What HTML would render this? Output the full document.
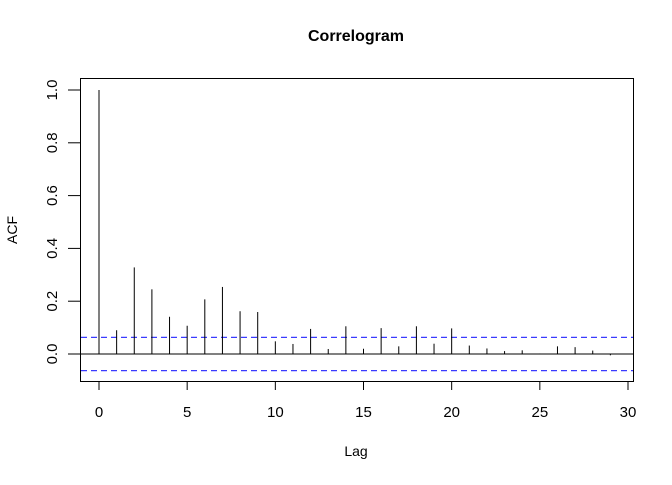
<!DOCTYPE html>
<html><head><meta charset="utf-8"><style>
body{margin:0;background:#fff;}
text{font-family:"Liberation Sans",sans-serif;fill:#000;}
</style></head><body>
<svg id="chart" width="672" height="480" xmlns="http://www.w3.org/2000/svg">
<text x="356" y="41" text-anchor="middle" font-size="16" font-weight="bold">Correlogram</text>
<text x="356" y="456" text-anchor="middle" font-size="14">Lag</text>
<text transform="translate(17,230) rotate(-90)" text-anchor="middle" font-size="14">ACF</text>
<rect x="80.5" y="78.5" width="553" height="303" fill="none" stroke="#000" stroke-width="1"/>
<g id="marks"></g>
</svg>
<script>
const lags=[0,1,2,3,4,5,6,7,8,9,10,11,12,13,14,15,16,17,18,19,20,21,22,23,24,25,26,27,28,29];
const acfValues=[1.0,0.09,0.328,0.245,0.141,0.107,0.207,0.254,0.162,0.159,0.048,0.038,0.095,0.019,0.105,0.02,0.098,0.029,0.105,0.039,0.097,0.032,0.021,0.011,0.014,0.002,0.029,0.026,0.013,-0.005];
const ciBound=0.063;
const xTicks=[0,5,10,15,20,25,30];
const yTicks=["0.0","0.2","0.4","0.6","0.8","1.0"];
const X=v=>99+v*(628-99)/30;
const Y=v=>354-v*264;
const g=document.getElementById('marks');
const NS='http://www.w3.org/2000/svg';
function mk(t,a){const e=document.createElementNS(NS,t);for(const k in a)e.setAttribute(k,a[k]);g.appendChild(e);return e;}
let e=mk('line',{x1:80,x2:633,y1:Y(0),y2:Y(0),stroke:'#000','stroke-width':1});


[ciBound,-ciBound].forEach((c,i)=>{
 const l=mk('line',{x1:81,x2:633,y1:Y(c),y2:Y(c),stroke:'#3b3bff','stroke-width':1.2,'stroke-dasharray':'6,4'});
 
 
});
lags.forEach((lag,i)=>{
 const b=mk('line',{x1:X(lag),x2:X(lag),y1:Y(0),y2:Y(acfValues[i]),stroke:'#000','stroke-width':1});
 
 
});
xTicks.forEach(t=>{
 const l=mk('line',{x1:X(t),x2:X(t),y1:382,y2:390,stroke:'#000'});
 
 
 const tx=mk('text',{x:X(t),y:417,'text-anchor':'middle','font-size':15});
 tx.textContent=t;
 
 
});
yTicks.forEach(t=>{
 const v=parseFloat(t);
 const l=mk('line',{x1:68,x2:80,y1:Y(v),y2:Y(v),stroke:'#000'});
 
 
 const tx=mk('text',{transform:`translate(57,${Y(v)}) rotate(-90)`,'text-anchor':'middle','font-size':15});
 tx.textContent=t;
 
 
});
</script>
</body></html>
